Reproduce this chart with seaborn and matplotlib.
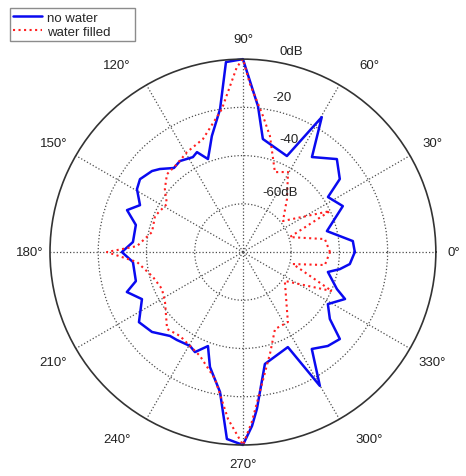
import numpy as np
import seaborn as sns
import matplotlib.pyplot as plt

# polar response, angle in degrees, level in dB
blue_deg = [0, 5.7, 14, 24.7, 32.9, 37, 44.7, 54, 59.7, 65.4, 80, 84.1, 90, 95.1, 99.1,
            105, 107.8, 110.6, 114.7, 117.8, 124.7, 129.4, 135, 138.3, 144.7, 149.3,
            155.5, 160.1, 165.8, 174.8, 180, 185.2, 195.2, 199, 205, 214, 221.3, 229,
            233.1, 240.6, 244.4, 249.6, 254, 260.7, 265.1, 270, 273, 275.1, 281.1,
            295.3, 299.9, 305.4, 312.1, 318.1, 322.4, 328.5, 335.3, 338.5, 346.8, 350,
            353.6, 360]
blue_db = [-33.6, -34.2, -44.1, -34.4, -38.0, -29.7, -25.2, -31.3, -15.2, -36.2, -32.4,
           -19.2, 0, -0.9, -20.0, -30.2, -35.0, -38.8, -34.4, -35.5, -34.1, -34.9, -31.3,
           -29.5, -27.7, -28.9, -33.1, -28.9, -34.2, -34.2, -29.8, -34.2, -34.0, -29.1,
           -33.8, -28.0, -29.8, -33.9, -34.4, -35.3, -34.0, -38.4, -30.4, -21.2, -2.2, 0,
           -7.8, -14.7, -32.7, -36.4, -16.0, -30.7, -27.5, -26.0, -34.5, -38.7, -33.4,
           -38.1, -43.8, -39.2, -35.4, -33.6]

red_deg = [0, 9, 17.7, 25.2, 37.8, 50.3, 60.6, 68.2, 76.9, 81.6, 87.6, 90, 91.9, 98.4,
           109.5, 119.2, 126.9, 134.3, 141.1, 147.7, 157.7, 167.6, 176.8, 180, 185.4,
           195.5, 204.5, 212.7, 225.4, 233.1, 240.6, 247.5, 257.6, 264.9, 270, 273,
           276.9, 285, 292.6, 302.7, 325.4, 336.3, 346.5, 351, 360]
red_db = [-43.9, -45.6, -59.6, -40.1, -59.0, -51.4, -41.9, -44.3, -30.6, -23.0, -10.3, 0,
          -3.3, -20.1, -30.3, -32.5, -34.4, -34.9, -38.4, -42.7, -40.6, -41.4, -36.0,
          -23.6, -35.9, -41.3, -43.1, -41.6, -35.2, -36.5, -35.3, -33.4, -26.1, -10.5, 0,
          -9.5, -21.6, -36.5, -45.4, -45.5, -58.9, -39.7, -58.7, -45.6, -43.9]

ring_db = [-60, -40, -20]
ring_labels = ["0dB", "-20", "-40", "-60dB"]
ring_label_pos = [(76.6, 5.7), (75.9, -13.8), (67.8, -29.4), (58.3, -50.8)]

theta_ticks = list(range(0, 360, 30))
# where the angle labels sit (angle, level in dB beyond the 0 dB circle)
theta_label_pos = [(0, 7.5), (30, 10.8), (56, 13.5), (90, 8.5), (124, 13.5), (150, 10.8),
                   (180, 8.5), (210, 10.8), (236, 13.5), (270, 8.0), (304, 13.5), (330, 10.8)]

sns.set_style("white")
plt.rcParams['font.family'] = ['Liberation Sans', 'DejaVu Sans']

fig = plt.figure(figsize=(4.66, 4.77), dpi=100)
ax = fig.add_axes([0.1073, 0.065, 0.828, 0.809], projection="polar")

sns.lineplot(x=np.deg2rad(blue_deg), y=blue_db, ax=ax, sort=False, color="#0a0af0",
             lw=1.8, label="no water", clip_on=False)
sns.lineplot(x=np.deg2rad(red_deg), y=red_db, ax=ax, sort=False, color="#ff2020",
             lw=1.5, ls=":", label="water filled", clip_on=False)

ax.set_rlim(-80, 0)
ax.set_rgrids(ring_db, labels=[""] * len(ring_db))
ax.set_thetagrids(theta_ticks, labels=[""] * len(theta_ticks))
ax.grid(True, ls=":", color="0.3", lw=0.9)
ax.spines["polar"].set_color("0.2")
ax.spines["polar"].set_linewidth(1.2)

for t, (a, r) in zip(theta_ticks, theta_label_pos):
    ax.text(np.deg2rad(a), r, f"{t}°", ha="center", va="center", fontsize=9.5,
            color="#222222", clip_on=False)

for lab, (t, r) in zip(ring_labels, ring_label_pos):
    ax.text(np.deg2rad(t), r, lab, ha="center", va="center", fontsize=9.5, color="#222222")

ax.get_legend().remove()
h, l = ax.get_legend_handles_labels()
fig.legend(h, [s + "      " for s in l], loc="upper left",
           bbox_to_anchor=(10 / 466, 1 - 9 / 477),
           borderaxespad=0, fontsize=9.5, handlelength=2.2, handletextpad=0.35,
           borderpad=0.25, labelspacing=0.15, fancybox=False, edgecolor="0.55",
           framealpha=1)

plt.savefig("out.png", dpi=100)
